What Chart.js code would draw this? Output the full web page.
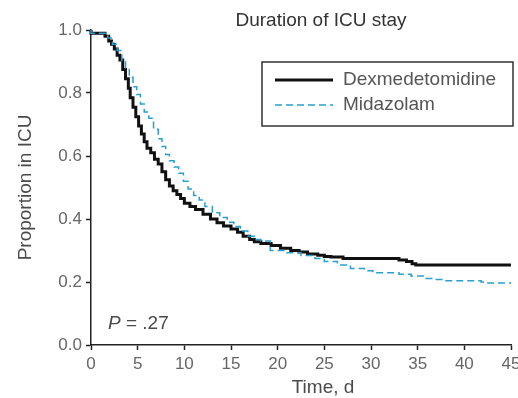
<!DOCTYPE html>
<html>
<head>
<meta charset="utf-8">
<title>Duration of ICU stay</title>
<script src="https://cdn.jsdelivr.net/npm/chart.js@4/dist/chart.umd.min.js"></script>
<style>
  html, body { margin: 0; padding: 0; background: #fff; }
  #c { display: block; }
</style>
</head>
<body>
<canvas id="c" width="518" height="398"></canvas>
<script>
// Kaplan-Meier estimates: proportion of patients still in the ICU by day
const seriesNames = ['Dexmedetomidine', 'Midazolam'];

const dexDays = [0, 1.5, 1.9, 2.2, 2.5, 2.8, 3.1, 3.4, 3.7, 4.0, 4.2, 4.5, 4.8, 5.1, 5.4, 5.7, 6.0, 6.4, 6.8, 7.2, 7.6, 8.0, 8.4, 8.8, 9.2, 9.6, 10.0, 10.6, 11.2, 12.0, 12.8, 13.5, 14.2, 15.0, 15.7, 16.3, 17.0, 17.5, 18.2, 19.3, 20.3, 21.4, 22.3, 23.2, 24.3, 25.0, 25.7, 27.0, 33.0, 33.8, 34.4, 34.8, 35.3, 45.0];
const dexInIcu = [1.0, 0.99, 0.98, 0.965, 0.955, 0.94, 0.92, 0.905, 0.875, 0.845, 0.815, 0.785, 0.755, 0.725, 0.695, 0.67, 0.645, 0.625, 0.61, 0.59, 0.575, 0.55, 0.525, 0.505, 0.49, 0.478, 0.465, 0.45, 0.44, 0.43, 0.415, 0.4, 0.388, 0.378, 0.368, 0.358, 0.345, 0.335, 0.328, 0.322, 0.316, 0.307, 0.3, 0.295, 0.289, 0.285, 0.281, 0.279, 0.275, 0.27, 0.265, 0.258, 0.254, 0.254];

const midDays = [0, 1.8, 2.3, 2.8, 3.3, 3.7, 4.1, 4.5, 4.9, 5.3, 5.7, 6.2, 6.7, 7.2, 7.6, 8.0, 8.4, 8.9, 9.4, 9.9, 10.4, 11.0, 11.6, 12.2, 13.0, 13.8, 14.6, 15.3, 16.0, 16.8, 17.5, 18.2, 19.2, 20.9, 22.5, 24.0, 25.0, 26.4, 27.8, 29.3, 30.2, 33.0, 34.3, 35.7, 36.8, 37.9, 41.8, 42.4, 45.0];
const midInIcu = [1.0, 0.99, 0.975, 0.955, 0.935, 0.9, 0.875, 0.85, 0.82, 0.795, 0.765, 0.74, 0.72, 0.685, 0.655, 0.63, 0.605, 0.585, 0.565, 0.545, 0.52, 0.495, 0.475, 0.46, 0.44, 0.42, 0.405, 0.39, 0.376, 0.362, 0.345, 0.335, 0.33, 0.3, 0.293, 0.284, 0.275, 0.265, 0.254, 0.243, 0.236, 0.229, 0.225, 0.219, 0.211, 0.208, 0.204, 0.2, 0.197];

const xTicks = [0, 5, 10, 15, 20, 25, 30, 35, 40, 45];
const yTicks = [0.0, 0.2, 0.4, 0.6, 0.8, 1.0];
const pValueText = '= .27';

const FONT = '"Liberation Sans", Arial, Helvetica, sans-serif';
const TEXT = '#4a4a4a';
const AXIS = '#222';
const DEX_COLOR = '#111';
const MID_COLOR = '#2a9fd0';

const toPoints = (xs, ys) => xs.map((x, i) => ({ x, y: ys[i] }));

// Title, axis titles, p value and the boxed legend
const annotations = {
  id: 'annotations',
  afterDraw(chart) {
    const ctx = chart.ctx;
    const area = chart.chartArea;
    ctx.save();
    ctx.textBaseline = 'middle';

    ctx.font = '19px ' + FONT;
    ctx.textAlign = 'center';
    ctx.fillStyle = '#333';
    ctx.fillText('Duration of ICU stay', 321, 21);

    ctx.fillStyle = TEXT;
    ctx.fillText('Time, d', 323, 388);

    ctx.save();
    ctx.translate(26, (area.top + area.bottom) / 2);
    ctx.rotate(-Math.PI / 2);
    ctx.fillText('Proportion in ICU', 0, 0);
    ctx.restore();

    // p value
    ctx.textAlign = 'left';
    ctx.font = 'italic 19px ' + FONT;
    ctx.fillText('P', 108, 324);
    const pw = ctx.measureText('P ').width;
    ctx.font = '19px ' + FONT;
    ctx.fillText(pValueText, 108 + pw, 324);

    // legend
    const box = { x: 262, y: 62, w: 251, h: 64 };
    ctx.strokeStyle = '#333';
    ctx.lineWidth = 1.5;
    ctx.strokeRect(box.x, box.y, box.w, box.h);
    chart.data.datasets.forEach((ds, i) => {
      const yy = box.y + 18 + i * 25;
      ctx.beginPath();
      ctx.strokeStyle = ds.borderColor;
      ctx.lineWidth = ds.borderWidth;
      ctx.setLineDash(ds.borderDash || []);
      ctx.moveTo(box.x + 13, yy);
      ctx.lineTo(box.x + 71, yy);
      ctx.stroke();
      ctx.setLineDash([]);
      ctx.fillStyle = '#555';
      ctx.font = '19px ' + FONT;
      ctx.fillText(ds.label, box.x + 81, yy);
    });
    ctx.restore();
  }
};

new Chart(document.getElementById('c'), {
  type: 'line',
  data: {
    datasets: [
      {
        label: seriesNames[0],
        data: toPoints(dexDays, dexInIcu),
        borderColor: DEX_COLOR,
        borderWidth: 3,
        stepped: 'after',
        pointRadius: 0,
        fill: false,
        clip: false,
        order: 1
      },
      {
        label: seriesNames[1],
        data: toPoints(midDays, midInIcu),
        borderColor: MID_COLOR,
        borderWidth: 1.5,
        borderDash: [7, 4],
        stepped: 'after',
        pointRadius: 0,
        fill: false,
        clip: false,
        order: 0
      }
    ]
  },
  options: {
    responsive: false,
    animation: false,
    events: [],
    layout: { padding: { top: 30, right: 7, left: 0, bottom: 0 } },
    plugins: { legend: { display: false }, title: { display: false }, tooltip: { enabled: false } },
    scales: {
      x: {
        type: 'linear',
        min: 0,
        max: 45,
        afterBuildTicks: (s) => { s.ticks = xTicks.map(v => ({ value: v })); },
        afterFit: (s) => { s.height = 53; s.paddingLeft = 0; s.paddingRight = 0; },
        ticks: { color: '#666', font: { family: FONT, size: 17 }, padding: 4, maxRotation: 0 },
        grid: { display: true, drawOnChartArea: false, drawTicks: true, tickLength: 5, color: AXIS, tickWidth: 1.5 },
        border: { display: true, color: AXIS, width: 1.5 }
      },
      y: {
        type: 'linear',
        min: 0,
        max: 1,
        afterBuildTicks: (s) => { s.ticks = yTicks.map(v => ({ value: v })); },
        afterFit: (s) => { s.width = 91; s.paddingTop = 0; s.paddingBottom = 0; },
        ticks: { color: '#666', font: { family: FONT, size: 17 }, padding: 4, callback: (v) => Number(v).toFixed(1) },
        grid: { display: true, drawOnChartArea: false, drawTicks: true, tickLength: 5, color: AXIS, tickWidth: 1.5 },
        border: { display: true, color: AXIS, width: 1.5 }
      }
    }
  },
  plugins: [annotations]
});
</script>
</body>
</html>
